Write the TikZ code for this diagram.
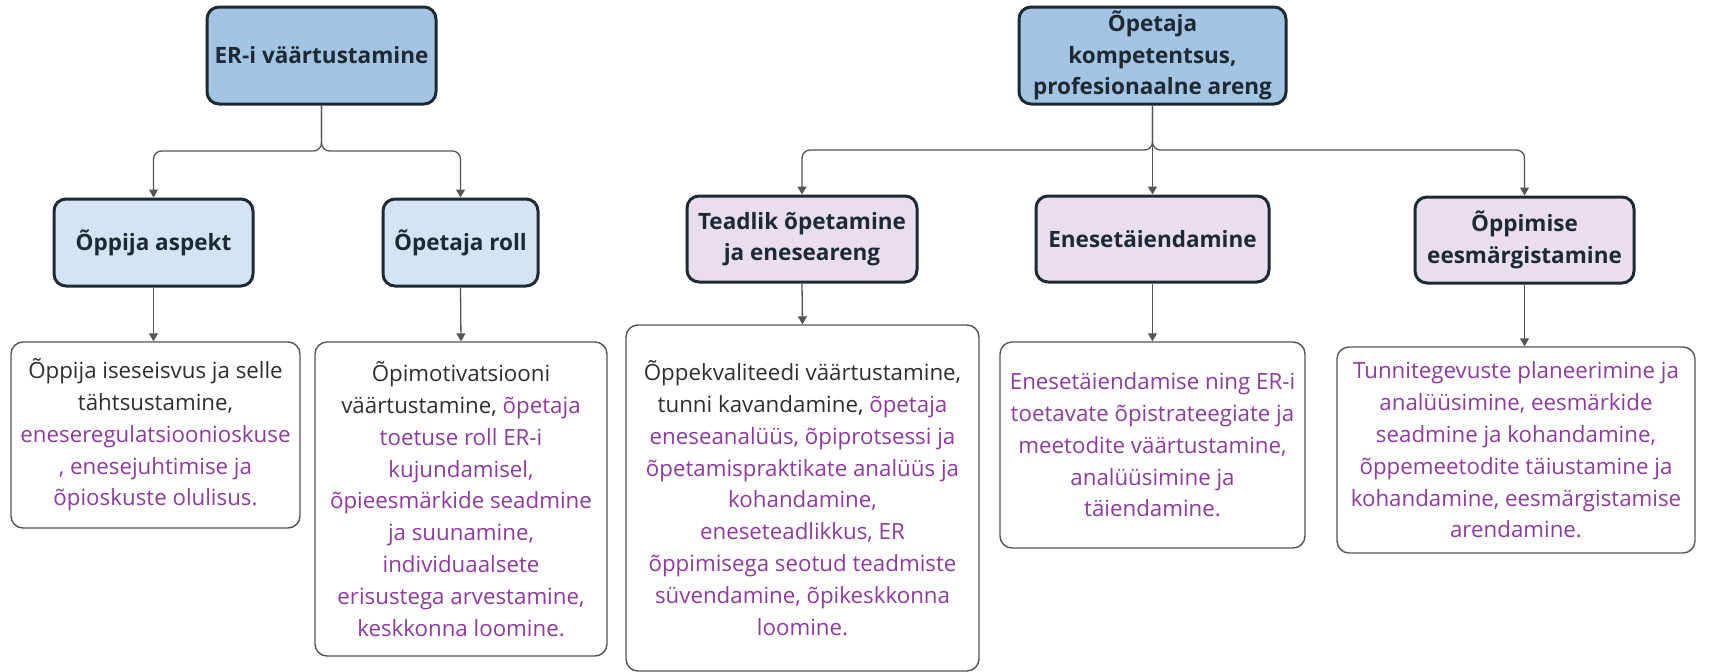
\documentclass[tikz,border=0pt]{standalone}
\usepackage{fontspec}
\setmainfont{Open Sans}
\usetikzlibrary{arrows.meta}

\definecolor{topblue}{HTML}{A3C4E2}
\definecolor{subblue}{HTML}{D3E5F5}
\definecolor{sublilac}{HTML}{E9DFEB}
\definecolor{edgedark}{HTML}{1E2A33}
\definecolor{txtpurple}{HTML}{8E3A9F}
\definecolor{txtgray}{HTML}{2E2E2E}
\definecolor{linegray}{HTML}{555555}

\newcommand\lilla[1]{\textcolor{txtpurple}{#1}}

\tikzset{
  head/.style={draw=edgedark, line width=3pt, rounded corners=12pt, align=center,
    font=\fontsize{22.5}{31.5}\selectfont\bfseries, text=edgedark, inner sep=0pt},
  topbox/.style={head, fill=topblue},
  bluebox/.style={head, fill=subblue},
  lilacbox/.style={head, fill=sublilac},
  textbox/.style={draw=linegray, line width=1.4pt, rounded corners=12pt, fill=white,
    align=center, font=\fontsize{22.3}{31.8}\selectfont, text=txtgray, inner sep=0pt},
  link/.style={draw=linegray, line width=1.3pt, rounded corners=8pt,
    -{Triangle[width=9pt,length=8pt]}}
}

\begin{document}
\begin{tikzpicture}[x=1pt,y=-1pt]
\useasboundingbox (0,0) rectangle (1709,672);

% left tree
\node[topbox, minimum width=229pt, minimum height=97pt] (erv) at (321.5,55.5) {ER-i väärtustamine};
\node[bluebox, minimum width=199pt, minimum height=87pt] (oppija) at (153.5,242.5) {Õppija aspekt};
\node[bluebox, minimum width=155pt, minimum height=87pt] (roll) at (460.5,242.5) {Õpetaja roll};
\node[textbox, minimum width=289pt, minimum height=186pt] (iseseisvus) at (155.5,435)
  {Õppija iseseisvus ja selle\\ tähtsustamine,\\ \lilla{eneseregulatsioonioskuse}\\
   \lilla{, enesejuhtimise ja}\\ \lilla{õpioskuste olulisus.}};
\node[textbox, minimum width=292pt, minimum height=314pt] (motivatsioon) at (461,499)
  {Õpimotivatsiooni\\ väärtustamine, \lilla{õpetaja}\\ \lilla{toetuse roll ER-i}\\
   \lilla{kujundamisel,}\\ \lilla{õpieesmärkide seadmine}\\ \lilla{ja suunamine,}\\
   \lilla{individuaalsete}\\ \lilla{erisustega arvestamine,}\\ \lilla{keskkonna loomine.}};

% right tree
\node[topbox, minimum width=267pt, minimum height=97pt] (kompetents) at (1152.5,55.5)
  {Õpetaja\\ kompetentsus,\\ profesionaalne areng};
\node[lilacbox, minimum width=230pt, minimum height=86pt] (teadlik) at (802,239)
  {Teadlik õpetamine\\ ja eneseareng};
\node[lilacbox, minimum width=233pt, minimum height=86pt] (taiend) at (1152.5,239) {Enesetäiendamine};
\node[lilacbox, minimum width=219pt, minimum height=86pt] (eesmark) at (1524.5,240)
  {Õppimise\\ eesmärgistamine};
\node[textbox, minimum width=353pt, minimum height=346pt] (kvaliteet) at (802.5,498)
  {Õppekvaliteedi väärtustamine,\\ tunni kavandamine, \lilla{õpetaja}\\
   \lilla{eneseanalüüs, õpiprotsessi ja}\\ \lilla{õpetamispraktikate analüüs ja}\\
   \lilla{kohandamine,}\\ \lilla{eneseteadlikkus, ER}\\ \lilla{õppimisega seotud teadmiste}\\
   \lilla{süvendamine, õpikeskkonna}\\ \lilla{loomine.}};
\node[textbox, minimum width=305pt, minimum height=206pt, text=txtpurple] (strateegia) at (1152.5,445)
  {Enesetäiendamise ning ER-i\\ toetavate õpistrateegiate ja\\ meetodite väärtustamine,\\
   analüüsimine ja\\ täiendamine.};
\node[textbox, minimum width=358pt, minimum height=206pt, text=txtpurple] (planeerimine) at (1516,450)
  {Tunnitegevuste planeerimine ja\\ analüüsimine, eesmärkide\\ seadmine ja kohandamine,\\
   õppemeetodite täiustamine ja\\ kohandamine, eesmärgistamise\\ arendamine.};

% connectors
\coordinate (jl) at (321.5,151);
\coordinate (jr) at (1152.5,150);
\draw[link] (erv.south) -- (jl) -| (oppija.north);
\draw[link] (erv.south) -- (jl) -| (roll.north);
\draw[link] (kompetents.south) -- (jr) -| (teadlik.north);
\draw[link] (kompetents.south) -- (taiend.north);
\draw[link] (kompetents.south) -- (jr) -| (eesmark.north);
\draw[link] (oppija.south) -- (oppija.south |- iseseisvus.north);
\draw[link] (roll.south) -- (motivatsioon.north);
\draw[link] (teadlik.south) -- (kvaliteet.north);
\draw[link] (taiend.south) -- (strateegia.north);
\draw[link] (eesmark.south) -- (eesmark.south |- planeerimine.north);
\end{tikzpicture}
\end{document}
